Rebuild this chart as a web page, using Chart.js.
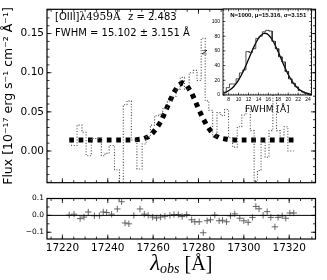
<!DOCTYPE html>
<html>
<head>
<meta charset="utf-8">
<script src="https://cdn.jsdelivr.net/npm/chart.js@4.4.0/dist/chart.umd.min.js"></script>
<style>
  body { margin: 0; background: #fff; }
  #wrap { position: relative; width: 327px; height: 280px; overflow: hidden; }
  canvas { position: absolute; }
</style>
</head>
<body>
<div id="wrap">
  <canvas id="spec" width="327" height="192" style="left:0;top:0"></canvas>
  <canvas id="resid" width="327" height="89" style="left:0;top:191px"></canvas>
  <canvas id="fwhm" width="132" height="116" style="left:195px;top:0"></canvas>
</div>
<script>
// observed wavelength grid [A]
const wavelength = [17223.0, 17225.1, 17227.8, 17229.5, 17231.4, 17234.1, 17236.3, 17238.0, 17239.5, 17241.7,
  17244.2, 17246.1, 17247.6, 17249.3, 17251.5, 17254.2, 17256.1, 17257.8, 17259.8, 17261.5,
  17263.3, 17265.2, 17267.4, 17269.2, 17271.1, 17272.8, 17274.8, 17277.0, 17278.4, 17280.3,
  17282.1, 17283.8, 17285.3, 17287.2, 17289.1, 17290.6, 17292.4, 17294.1, 17296.0, 17298.2,
  17300.0, 17301.9, 17303.8, 17305.3, 17306.7, 17308.5, 17310.3, 17311.9, 17313.7, 17315.1,
  17316.9, 17318.5, 17320.3, 17322.0];

const flux = [0.012, 0.007, 0.033, 0.024, -0.006, 0.016, 0.016, -0.006, -0.003, 0.007,
  -0.024, -0.067, 0.059, 0.064, 0.014, -0.023, 0.009, 0.018, 0.033, 0.045,
  0.047, 0.054, 0.064, 0.070, 0.079, 0.094, 0.079, 0.100, 0.103, 0.090,
  0.144, 0.064, 0.052, 0.018, 0.049, 0.045, 0.053, 0.017, 0.005, 0.031,
  0.046, 0.055, 0.026, -0.039, -0.025, 0.014, -0.008, 0.026, 0.078, 0.026,
  0.017, 0.031, 0.000, 0.000];

const gaussFit = [0.014, 0.014, 0.014, 0.014, 0.014, 0.014, 0.014, 0.014, 0.014, 0.014,
  0.014, 0.014, 0.014, 0.014, 0.014, 0.015, 0.016, 0.018, 0.023, 0.029,
  0.037, 0.049, 0.064, 0.075, 0.084, 0.087, 0.084, 0.074, 0.065, 0.052,
  0.041, 0.032, 0.026, 0.020, 0.017, 0.016, 0.015, 0.014, 0.014, 0.014,
  0.014, 0.014, 0.014, 0.014, 0.014, 0.014, 0.014, 0.014, 0.014, 0.014,
  0.014, 0.014, 0.014, 0.014];

const residual = [0.002, 0.007, -0.019, -0.010, 0.020, -0.002, -0.002, 0.020, 0.017, 0.007,
  0.038, 0.081, -0.045, -0.050, 0.000, 0.038, 0.007, 0.000, -0.010, -0.016,
  -0.010, -0.005, 0.000, 0.005, 0.005, -0.007, 0.005, -0.026, -0.038, -0.038,
  -0.103, -0.032, -0.026, 0.002, -0.032, -0.029, -0.038, -0.003, 0.009, -0.017,
  -0.032, -0.041, -0.012, 0.053, 0.039, 0.000, 0.022, -0.012, -0.068, -0.012,
  -0.003, -0.017, 0.014, 0.014];

const xTicks = [17220, 17240, 17260, 17280, 17300, 17320];
const fluxTicks = [0.00, 0.05, 0.10, 0.15];
const residTicks = [-0.1, 0.0, 0.1];

// inset: FWHM distribution of the 1000 realisations
const fwhmBinEdges = [6.87, 7.53, 8.19, 8.85, 9.51, 10.17, 10.83, 11.49, 12.15, 12.81, 13.47, 14.13, 14.79, 15.45,
  16.11, 16.77, 17.43, 18.09, 18.75, 19.41, 20.07, 20.73, 21.39, 22.05, 22.71, 23.37, 24.03, 24.69];
const fwhmCounts = [3, 10, 15, 15, 22, 30, 34, 59, 58, 63, 77, 80, 86, 88, 87, 73, 63, 52, 45, 32, 22, 16, 11, 6, 4, 2, 1];
const fwhmCurveX = [7, 8, 9, 10, 11, 12, 13, 14, 15, 15.3, 16, 17, 18, 19, 20, 21, 22, 23, 24, 24.69];
const fwhmCurveY = [2.6, 5.7, 11.3, 20.2, 32.9, 48.3, 64.1, 77.0, 83.6, 84.0, 82.0, 72.8, 58.4, 42.4, 27.8, 16.5, 8.9, 4.3, 1.9, 1.0];
const fwhmXTicks = [8, 10, 12, 14, 16, 18, 20, 22, 24];
const fwhmYTicks = [0, 20, 40, 60, 80, 100];

const lineLabel = '[OIII]';
const lineWave = 'λ4959Å';
const redshiftText = 'z = 2.483';
const fwhmText = 'FWHM = 15.102 ± 3.151 Å';
const statsText = 'N=1000, μ=15.316, σ=3.151';

const minus = s => s.replace('-', '−');

// box round the plot area, with inward ticks on all four sides
const framePlugin = {
  id: 'frame',
  beforeDraw(chart, args, opts) {
    if (!opts.fill) return;
    const a = chart.chartArea;
    chart.ctx.save();
    chart.ctx.fillStyle = opts.fill;
    chart.ctx.fillRect(a.left, a.top, a.width, a.height);
    chart.ctx.restore();
  },
  afterDraw(chart, args, opts) {
    const ctx = chart.ctx, a = chart.chartArea;
    const xs = chart.scales.x, ys = chart.scales.y;
    ctx.save();
    ctx.strokeStyle = '#000';
    ctx.lineWidth = opts.tickWidth;
    const marks = (scale, step, len, vertical) => {
      const first = Math.ceil(scale.min / step - 1e-6);
      const last = Math.floor(scale.max / step + 1e-6);
      ctx.beginPath();
      for (let i = first; i <= last; i++) {
        const p = scale.getPixelForValue(i * step);
        if (vertical) {
          ctx.moveTo(p, a.bottom); ctx.lineTo(p, a.bottom - len);
          ctx.moveTo(p, a.top); ctx.lineTo(p, a.top + len);
        } else {
          ctx.moveTo(a.left, p); ctx.lineTo(a.left + len, p);
          ctx.moveTo(a.right, p); ctx.lineTo(a.right - len, p);
        }
      }
      ctx.stroke();
    };
    marks(xs, opts.xMinor, opts.minorLen, true);
    marks(xs, opts.xMajor, opts.majorLen, true);
    marks(ys, opts.yMinor, opts.minorLen, false);
    marks(ys, opts.yMajor, opts.majorLen, false);
    if (opts.zero) {
      const z = ys.getPixelForValue(0);
      ctx.lineWidth = 1;
      ctx.beginPath(); ctx.moveTo(a.left, z); ctx.lineTo(a.right, z); ctx.stroke();
    }
    ctx.lineWidth = opts.frameWidth;
    ctx.strokeRect(a.left, a.top, a.width, a.height);
    ctx.restore();
  }
};

const notesPlugin = {
  id: 'notes',
  afterDraw(chart) {
    const ctx = chart.ctx;
    ctx.save();
    ctx.fillStyle = '#000';
    ctx.font = '10px "DejaVu Sans"';
    ctx.fillText(lineLabel, 55, 19.5);
    const w = ctx.measureText(lineLabel).width;
    ctx.font = '10.5px "DejaVu Serif"';
    ctx.fillText(lineWave, 55 + w, 19.5);
    ctx.font = '10px "DejaVu Sans"';
    ctx.fillText(redshiftText, 128, 19.5);
    ctx.fillText(fwhmText, 55, 36);
    ctx.restore();
  }
};

const obsTitlePlugin = {
  id: 'obsTitle',
  afterDraw(chart) {
    const ctx = chart.ctx, a = chart.chartArea;
    const parts = [
      { t: 'λ', f: 'italic 23px "Liberation Serif"', dy: 0 },
      { t: 'obs', f: 'italic 14px "Liberation Serif"', dy: 3 },
      { t: ' [Å]', f: '20px "Liberation Serif"', dy: 0 }
    ];
    ctx.save();
    ctx.fillStyle = '#000';
    let total = 0;
    parts.forEach(p => { ctx.font = p.f; p.w = ctx.measureText(p.t).width; total += p.w; });
    let x = (a.left + a.right) / 2 - total / 2;
    parts.forEach(p => { ctx.font = p.f; ctx.fillText(p.t, x, 79 + p.dy); x += p.w; });
    ctx.restore();
  }
};

const statsPlugin = {
  id: 'stats',
  afterDraw(chart) {
    const ctx = chart.ctx, a = chart.chartArea;
    ctx.save();
    ctx.fillStyle = '#000';
    ctx.font = 'bold 6px "Liberation Sans"';
    ctx.textAlign = 'center';
    ctx.fillText(statsText, (a.left + a.right) / 2 + 1, a.top + 8);
    ctx.restore();
  }
};

const fixedWidth = w => scale => { scale.width = w; };
const fixedHeight = h => scale => { scale.height = h; };
const setTicks = list => scale => { scale.ticks = list.map(v => ({ value: v })); };

const baseOptions = {
  responsive: false,
  animation: false,
  events: [],
  plugins: { legend: { display: false }, tooltip: { enabled: false } }
};

const specPoints = wavelength.map((w, i) => ({ x: w, y: flux[i] }));
const fitPoints = wavelength.map((w, i) => ({ x: w, y: gaussFit[i] }));
const residPoints = wavelength.map((w, i) => ({ x: w, y: residual[i] }));

new Chart(document.getElementById('spec'), {
  type: 'line',
  data: {
    datasets: [{
      data: specPoints,
      stepped: 'middle',
      borderColor: '#555',
      borderWidth: 1.1,
      borderDash: [1.1, 1.7],
      pointRadius: 0,
      clip: 0
    }, {
      data: fitPoints,
      borderColor: '#000',
      borderWidth: 5,
      borderDash: [4.7, 4.7],
      borderCapStyle: 'butt',
      pointRadius: 0,
      clip: 0
    }]
  },
  options: {
    ...baseOptions,
    layout: { padding: { top: 4, right: 11.5, bottom: 1, left: 0 } },
    plugins: {
      ...baseOptions.plugins,
      frame: { xMajor: 20, xMinor: 5, yMajor: 0.05, yMinor: 0.01, majorLen: 4.5, minorLen: 2.5, tickWidth: 0.8, frameWidth: 1.2 }
    },
    scales: {
      x: { type: 'linear', display: false, min: 17213.2, max: 17331.6 },
      y: {
        type: 'linear', min: -0.0405, max: 0.181,
        afterFit: fixedWidth(47),
        afterBuildTicks: setTicks(fluxTicks),
        grid: { display: false, drawTicks: false },
        border: { display: false },
        ticks: { padding: 3, color: '#000', font: { family: 'DejaVu Sans', size: 10.5 }, callback: v => v.toFixed(2) },
        title: {
          display: true, text: 'Flux [10⁻¹⁷ erg s⁻¹ cm⁻² Å⁻¹]', color: '#000',
          font: { family: 'DejaVu Sans', size: 12.5 }, padding: { top: 1, bottom: 0 }
        }
      }
    }
  },
  plugins: [framePlugin, notesPlugin]
});

new Chart(document.getElementById('resid'), {
  type: 'scatter',
  data: {
    datasets: [{
      data: residPoints,
      pointStyle: 'cross',
      pointRadius: 3.2,
      borderColor: '#555',
      borderWidth: 0.9,
      clip: 0
    }]
  },
  options: {
    ...baseOptions,
    layout: { padding: { top: 1, right: 11.5, bottom: 0, left: 0 } },
    plugins: {
      ...baseOptions.plugins,
      frame: { xMajor: 20, xMinor: 5, yMajor: 0.1, yMinor: 0.05, majorLen: 4.5, minorLen: 2.5, tickWidth: 0.8, frameWidth: 1.2, zero: true }
    },
    scales: {
      x: {
        type: 'linear', min: 17213.2, max: 17331.6,
        afterFit: fixedHeight(41),
        afterBuildTicks: setTicks(xTicks),
        grid: { display: false, drawTicks: false },
        border: { display: false },
        ticks: { padding: 3, color: '#000', maxRotation: 0, font: { family: 'DejaVu Sans', size: 10.5 }, callback: v => String(v) }
      },
      y: {
        type: 'linear', min: -0.14, max: 0.1,
        afterFit: fixedWidth(47),
        afterBuildTicks: setTicks(residTicks),
        grid: { display: false, drawTicks: false },
        border: { display: false },
        ticks: { padding: 3, color: '#000', font: { family: 'DejaVu Sans', size: 7.5 }, callback: v => minus(v.toFixed(1)) }
      }
    }
  },
  plugins: [framePlugin, obsTitlePlugin]
});

const histOutline = [{ x: fwhmBinEdges[0], y: 0 }];
fwhmCounts.forEach((c, i) => {
  histOutline.push({ x: fwhmBinEdges[i], y: c });
  histOutline.push({ x: fwhmBinEdges[i + 1], y: c });
});
histOutline.push({ x: fwhmBinEdges[fwhmBinEdges.length - 1], y: 0 });

new Chart(document.getElementById('fwhm'), {
  type: 'line',
  data: {
    datasets: [{
      data: histOutline,
      borderColor: '#222',
      borderWidth: 0.8,
      pointRadius: 0,
      tension: 0
    }, {
      data: fwhmCurveX.map((x, i) => ({ x: x, y: fwhmCurveY[i] })),
      borderColor: '#000',
      borderWidth: 1.3,
      pointRadius: 0,
      cubicInterpolationMode: 'monotone'
    }]
  },
  options: {
    ...baseOptions,
    layout: { padding: { top: 9, right: 15.5, bottom: 0, left: 0 } },
    plugins: {
      ...baseOptions.plugins,
      frame: { fill: '#fff', xMajor: 2, xMinor: 0.5, yMajor: 20, yMinor: 5, majorLen: 2.5, minorLen: 1.3, tickWidth: 0.6, frameWidth: 0.9 }
    },
    scales: {
      x: {
        type: 'linear', min: 6.87, max: 24.69,
        afterFit: fixedHeight(21),
        afterBuildTicks: setTicks(fwhmXTicks),
        grid: { display: false, drawTicks: false },
        border: { display: false },
        ticks: { padding: 1.5, color: '#000', maxRotation: 0, font: { family: 'Liberation Sans', size: 5 } },
        title: {
          display: true, text: 'FWHM [Å]', color: '#000',
          font: { family: 'DejaVu Sans', size: 9 }, padding: { top: 0, bottom: 0.5 }
        }
      },
      y: {
        type: 'linear', min: 0, max: 117,
        afterFit: fixedWidth(28),
        afterBuildTicks: setTicks(fwhmYTicks),
        grid: { display: false, drawTicks: false },
        border: { display: false },
        ticks: { padding: 3, color: '#000', font: { family: 'Liberation Sans', size: 5 } },
        title: {
          display: true, text: 'N', color: '#000',
          font: { family: 'Liberation Sans', size: 8 }, padding: { top: 5, bottom: 0 }
        }
      }
    }
  },
  plugins: [framePlugin, statsPlugin]
});
</script>
</body>
</html>
